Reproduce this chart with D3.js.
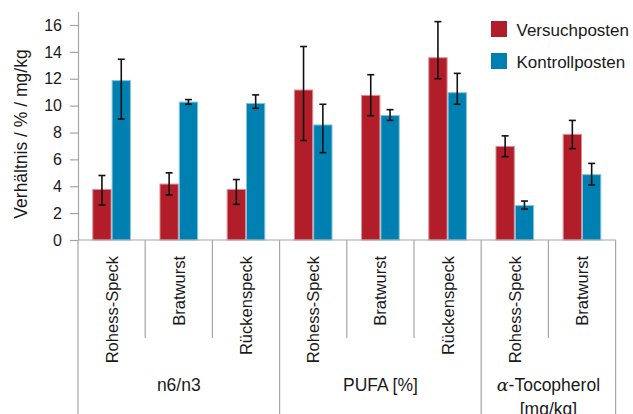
<!DOCTYPE html>
<html>
<head>
<meta charset="utf-8">
<script src="https://cdn.jsdelivr.net/npm/d3@7"></script>
<style>
  html, body { margin: 0; padding: 0; background: #fff; }
  svg { display: block; font-family: "Liberation Sans", Arial, sans-serif; }
</style>
</head>
<body>
<svg id="chart" width="633" height="414"></svg>
<script>
// ---- data ----
const categories = ["Rohess-Speck", "Bratwurst", "Rückenspeck", "Rohess-Speck", "Bratwurst", "Rückenspeck", "Rohess-Speck", "Bratwurst"];
const groupLabels = [["n6/n3"], ["PUFA [%]"], ["α-Tocopherol", "[mg/kg]"]];
const groupSizes = [3, 3, 2];
const seriesNames = ["Versuchposten", "Kontrollposten"];
const versuch = [3.8, 4.2, 3.8, 11.2, 10.8, 13.6, 7.0, 7.9];
const kontroll = [11.9, 10.3, 10.2, 8.6, 9.3, 11.0, 2.6, 4.9];
const versuchHigh = [4.8, 5.0, 4.5, 14.4, 12.3, 16.25, 7.75, 8.9];
const versuchLow = [2.6, 3.35, 2.65, 7.4, 9.25, 12.0, 6.2, 6.8];
const kontrollHigh = [13.45, 10.45, 10.8, 10.1, 9.7, 12.4, 2.9, 5.7];
const kontrollLow = [9.0, 10.1, 9.8, 6.5, 8.9, 10.1, 2.3, 4.1];
const yTicks = [0, 2, 4, 6, 8, 10, 12, 14, 16];
const yTitle = "Verhältnis / % / mg/kg";

const colors = ["#B21D2A", "#0080B0"];
const strokeColors = ["#DE8D95", "#86C3DC"];
const axisColor = "#A6A6A6";

const svg = d3.select("#chart");
const left = 78, right = 615.6, base = 240;

const x = d3.scaleBand().domain(d3.range(categories.length)).range([left, right]).paddingInner(0).paddingOuter(0);
const pairW = x.bandwidth() * 0.575;
const xs = d3.scaleBand().domain([0, 1]).range([(x.bandwidth() - pairW) / 2, (x.bandwidth() + pairW) / 2]);
const y = d3.scaleLinear().domain([0, 17]).range([base, base - 17 * 13.4375]);

const series = [
  { vals: versuch, hi: versuchHigh, lo: versuchLow },
  { vals: kontroll, hi: kontrollHigh, lo: kontrollLow }
];

// bars
series.forEach((s, si) => {
  svg.append("g").selectAll("rect").data(s.vals).join("rect")
    .attr("x", (d, i) => x(i) + xs(si) + 0.5)
    .attr("y", d => y(d) + 0.5)
    .attr("width", xs.bandwidth() - 1)
    .attr("height", d => y(0) - y(d) - 0.5)
    .attr("fill", colors[si])
    .attr("stroke", strokeColors[si])
    .attr("stroke-width", 1);
});

// error bars
series.forEach((s, si) => {
  const g = svg.append("g").attr("stroke", "#111").attr("stroke-width", 1.6);
  s.vals.forEach((d, i) => {
    const cx = x(i) + xs(si) + xs.bandwidth() / 2;
    g.append("line").attr("x1", cx).attr("x2", cx).attr("y1", y(s.hi[i])).attr("y2", y(s.lo[i]));
    [s.hi[i], s.lo[i]].forEach(v => {
      g.append("line").attr("x1", cx - 3.5).attr("x2", cx + 3.5).attr("y1", y(v)).attr("y2", y(v));
    });
  });
});

// y axis
const yAxis = svg.append("g").attr("transform", `translate(${left},0)`)
  .call(d3.axisLeft(y).tickValues(yTicks).tickSize(8).tickSizeOuter(0).tickPadding(8).tickFormat(d3.format("d")));
yAxis.select(".domain").attr("stroke", axisColor).attr("stroke-width", 1.2);
yAxis.selectAll(".tick line").attr("stroke", axisColor).attr("stroke-width", 1.2);
yAxis.selectAll(".tick text").attr("font-size", 16).attr("fill", "#1a1a1a")
  .attr("font-family", "'Liberation Sans', Arial, sans-serif");

// y title
svg.append("text")
  .attr("transform", `translate(26.5,134) rotate(-90)`)
  .attr("text-anchor", "middle")
  .attr("font-size", 17.5)
  .attr("fill", "#1a1a1a")
  .text(yTitle);

// x axis line and separators
const ax = svg.append("g").attr("stroke", axisColor).attr("stroke-width", 1.2);
ax.append("line").attr("x1", left).attr("x2", right).attr("y1", base).attr("y2", base);
const groupBoundaries = [0];
groupSizes.forEach((n, i) => groupBoundaries.push(groupBoundaries[i] + n));
d3.range(categories.length + 1).forEach(i => {
  const xp = i < categories.length ? x(i) : right;
  const isGroup = groupBoundaries.includes(i);
  ax.append("line").attr("x1", xp).attr("x2", xp).attr("y1", base).attr("y2", isGroup ? 414 : 338);
});

// category labels
svg.append("g").selectAll("text").data(categories).join("text")
  .attr("transform", (d, i) => `translate(${x(i) + x.bandwidth() / 2},256) rotate(-90)`)
  .attr("text-anchor", "end")
  .attr("dy", "0.36em")
  .attr("font-size", 16.5)
  .attr("fill", "#1a1a1a")
  .text(d => d);

// group labels
groupLabels.forEach((lines, gi) => {
  const x0 = x(groupBoundaries[gi]);
  const x1 = groupBoundaries[gi + 1] < categories.length ? x(groupBoundaries[gi + 1]) : right;
  const cx = (x0 + x1) / 2;
  const t = svg.append("text").attr("text-anchor", "middle").attr("font-size", 17.5).attr("fill", "#1a1a1a");
  lines.forEach((ln, li) => {
    const ts = t.append("tspan").attr("x", cx).attr("y", 391 + li * 23.5);
    if (ln.startsWith("α")) {
      ts.append("tspan").attr("font-family", "'DejaVu Serif', 'Liberation Serif', serif").attr("font-style", "italic").text("α");
      ts.append("tspan").text(ln.slice(1));
    } else {
      ts.text(ln);
    }
  });
});

// legend
const lg = svg.append("g");
seriesNames.forEach((name, i) => {
  const yy = 21 + i * 32;
  lg.append("rect").attr("x", 491).attr("y", yy).attr("width", 16).attr("height", 16).attr("fill", colors[i]);
  lg.append("text").attr("x", 516.5).attr("y", yy + 15).attr("font-size", 17).attr("fill", "#1a1a1a").text(name);
});
</script>
</body>
</html>
